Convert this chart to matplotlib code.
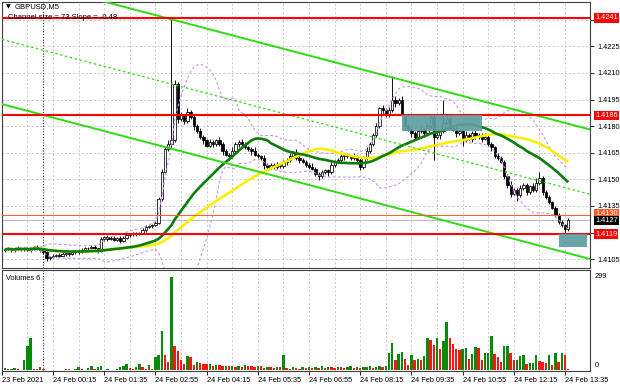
import numpy as np
import pandas as pd
import matplotlib
matplotlib.use("Agg")
import matplotlib.pyplot as plt
from matplotlib.patches import Rectangle

plt.rcParams['font.family'] = ['Liberation Sans', 'DejaVu Sans']

# ---------------- data (prices in pips above BASE) ----------------
BASE = 1.4100
first_open_pips = 10.0
close_pips = [
    10.5, 11, 10, 10.5, 11.5, 10.5, 11, 10, 11, 12,
    11, 10, 9, 5.5, 6, 7, 7.5, 7, 8, 8.5,
    8, 9, 9.5, 9, 10, 11, 11.5, 12, 11, 10,
    16.5, 17.5, 16.5, 17, 16, 17, 15.5, 17, 18.5, 19,
    19.5, 19, 20, 21.5, 23, 23.5, 24.5, 25.5, 39, 54,
    67, 70, 72, 104, 84, 86, 83, 88, 85, 80,
    77, 74, 72, 69, 71, 70, 72, 70, 66, 64,
    63, 66, 70, 71, 70, 68, 67, 66, 64, 63,
    62, 58, 57, 58, 57, 58, 57.5, 60, 61, 63,
    65, 62, 61, 60, 58, 57, 56, 53, 52, 54,
    55, 54, 58, 60, 61, 63, 64, 63, 62, 63,
    61, 57, 62, 66, 70, 75, 80, 90, 89, 86,
    89, 95, 93, 95, 86, 80, 78, 76, 74, 77,
    78, 76, 80, 85, 74, 75, 77, 82, 84, 80,
    78, 76, 77, 72, 75, 73, 76, 74, 75, 73,
    74, 70, 68, 63, 62, 60, 52, 47, 42, 44,
    41, 45, 47, 43, 46, 44, 48, 51, 43, 40,
    37, 34, 30, 26, 24, 22, 27,
]
upper_wick_pips = [
    1, 1, 0.5, 1, 1, 0.5, 1, 1, 1, 0.5,
    1, 0.5, 1, 0.5, 1, 1, 0.5, 1, 1, 0.5,
    1, 1, 0.5, 1, 1, 1, 0.5, 1, 1, 0.5,
    1, 0.5, 1, 1, 1, 0.5, 1, 1, 1, 0.5,
    1, 1, 0.5, 1, 1, 1, 0.5, 1, 1, 2,
    1, 2, 69, 2, 1, 2, 1, 2, 1, 1,
    1, 2, 1, 1, 2, 1, 1, 2, 1, 1,
    1, 2, 1, 1, 2, 1, 1, 1, 2, 1,
    1, 2, 1, 1, 1, 2, 1, 1, 1, 2,
    1, 2, 1, 1, 1, 1, 2, 1, 1, 1,
    1, 1, 2, 1, 1, 2, 1, 1, 1, 2,
    1, 1, 1, 2, 1, 1, 2, 1, 2, 1,
    2, 13, 2, 1, 2, 1, 1, 2, 1, 1,
    2, 1, 2, 2, 1, 2, 1, 13, 2, 1,
    1, 2, 1, 1, 2, 1, 1, 2, 1, 1,
    2, 1, 1, 1, 2, 1, 1, 1, 2, 1,
    1, 2, 1, 1, 1, 2, 3, 3, 1, 1,
    1, 1, 1, 1, 1, 1, 1,
]
lower_wick_pips = [
    1, 0.5, 1, 1, 0.5, 1, 1, 0.5, 1, 1,
    0.5, 1, 1, 1.5, 1, 0.5, 1, 1, 0.5, 1,
    1, 0.5, 1, 1, 0.5, 1, 1, 1, 0.5, 1.5,
    1, 1, 1, 0.5, 1, 1, 1.5, 1, 0.5, 1,
    1, 1, 0.5, 1, 1, 0.5, 1, 1, 0.5, 1,
    1, 1, 3, 1, 2, 1, 2, 1, 1, 2,
    1, 1, 2, 1, 1, 2, 1, 1, 2, 1,
    2, 1, 1, 2, 1, 1, 1, 2, 1, 1,
    1, 2, 2, 1, 1, 1, 1, 1, 2, 1,
    1, 1, 2, 1, 1, 1, 1, 1, 2.5, 1,
    1, 2, 1, 1, 1, 1, 2, 1, 1, 1,
    1, 2, 1, 1, 1, 1, 1, 1, 2, 1,
    1, 1, 2, 1, 1, 2, 1, 2, 2, 1,
    1, 2, 1, 1, 13, 1, 2, 1, 1, 2,
    1, 2, 1, 3, 1, 1, 2, 1, 1, 2,
    1, 1, 2, 1, 1, 1, 2, 2, 2, 1,
    3, 1, 1, 2, 1, 1, 1, 1, 2, 1,
    1, 1, 1, 1, 1, 3, 1,
]
volumes = [
    8, 4, 4, 8, 4, 3, 33, 77, 105, 6,
    5, 10, 4, 3, 2, 3, 2, 3, 2, 6,
    4, 3, 5, 10, 4, 3, 8, 15, 5, 10,
    15, 3, 4, 3, 3, 5, 12, 14, 22, 8,
    5, 10, 20, 10, 6, 18, 5, 42, 51, 127,
    50, 26, 299, 77, 61, 33, 21, 45, 44, 19,
    27, 25, 22, 20, 21, 13, 18, 16, 14, 15,
    13, 14, 12, 15, 11, 16, 14, 13, 12, 15,
    14, 9, 12, 10, 8, 12, 11, 51, 8, 6,
    10, 9, 5, 11, 9, 12, 8, 10, 9, 13,
    8, 11, 10, 9, 12, 10, 8, 11, 13, 9,
    12, 7, 10, 11, 14, 8, 12, 15, 10, 14,
    57, 88, 35, 54, 59, 38, 19, 51, 33, 36,
    35, 46, 105, 99, 80, 105, 69, 93, 156, 103,
    85, 69, 64, 69, 73, 38, 54, 75, 73, 35,
    56, 57, 110, 54, 42, 27, 77, 78, 57, 32,
    35, 45, 48, 22, 25, 25, 48, 31, 27, 25,
    51, 19, 57, 27, 57, 51, 5,
]
start_time = '2021-02-23 23:00'
tick_clock = ['00:15', '01:35', '02:55', '04:15', '05:35', '06:55',
              '08:15', '09:35', '10:55', '12:15', '13:35']
red_levels = [1.4241, 1.4186, 1.4119]
orange_level = 1.4130
bid_price = 1.4127
channel_lower_ends = [1.41924, 1.41051]
channel_size = 0.0073
zone1 = (1.4177, 1.4186)
zone1_times = ('2021-02-24 09:20', '2021-02-24 11:25')
zone2 = (1.4112, 1.4119)
zone2_times = ('2021-02-24 13:25', '2021-02-24 14:10')
price_ticks = [1.4105, 1.4120, 1.4135, 1.4150, 1.4165, 1.4180, 1.4195, 1.4210, 1.4225, 1.4240]
hidden_tick_labels = [1.4120, 1.4240]   # covered by the level boxes in the reference

# ---------------- derived ----------------
n = len(close_pips)
idx = np.arange(n)
times = pd.date_range(start_time, periods=n, freq='5min')
close = BASE + np.array(close_pips) * 1e-4
opn = np.r_[BASE + first_open_pips * 1e-4, close[:-1]]
hi = np.maximum(opn, close) + np.array(upper_wick_pips) * 1e-4
lo = np.minimum(opn, close) - np.array(lower_wick_pips) * 1e-4
s = pd.Series(close)
ma30 = s.rolling(30, min_periods=1).mean()
ma50 = s.rolling(50, min_periods=1).mean()
bb_mid = s.rolling(20, min_periods=1).mean()
bb_std = s.rolling(20, min_periods=1).std(ddof=0)
bb_up = bb_mid + 2 * bb_std
bb_dn = bb_mid - 2 * bb_std

def t2i(t):
    return (pd.Timestamp(t) - times[0]) / pd.Timedelta('5min')

# ---------------- figure ----------------
W, H = 620, 388
fig = plt.figure(figsize=(W / 100, H / 100), dpi=100, facecolor='white')
ax = fig.add_axes([2 / W, 1 - 268 / H, 588 / W, 266 / H])
axv = fig.add_axes([2 / W, 1 - 371 / H, 588 / W, 101 / H], sharex=ax)

XL = (-0.94, 182.8)
ax.set_xlim(*XL)
ax.set_ylim(1.4100, 1.4250)
axv.set_ylim(-1.6, 321)

grid_kw = dict(color='#c4c4c4', lw=0.6, ls=(0, (2.5, 2.5)), zorder=0.5)
for i in idx[(idx - 15) % 8 == 0]:
    ax.axvline(i, **grid_kw)
    axv.axvline(i, **grid_kw)
for p in price_ticks:
    ax.axhline(p, **grid_kw)
sep = t2i('2021-02-24 00:00')
for a in (ax, axv):
    a.axvline(sep, color='#333333', lw=0.8, ls=(0, (1, 1.5)), zorder=0.6)

# candles
ax.vlines(idx, lo, hi, color='black', lw=0.65, zorder=3)
up = close >= opn
ax.bar(idx[up], (close - opn)[up], bottom=opn[up], width=0.7, color='white',
       edgecolor='black', lw=0.55, zorder=3.1)
ax.bar(idx[~up], (opn - close)[~up], bottom=close[~up], width=0.7, color='black',
       edgecolor='black', lw=0.55, zorder=3.1)

# indicators
bb_kw = dict(color='#c796e8', lw=0.8, ls=(0, (2.5, 2)), zorder=3.5)
ax.plot(idx, bb_up, **bb_kw)
ax.plot(idx, bb_dn, **bb_kw)
ax.plot(idx, ma50, color='#ffee00', lw=1.9, zorder=4, solid_capstyle='butt')
ax.plot(idx, ma30, color='#0b7d0b', lw=1.9, zorder=4.1, solid_capstyle='butt')

# channel
chx = list(XL)
lower = np.array(channel_lower_ends)
ax.plot(chx, lower, color='#2fdc14', lw=1.4, zorder=5)
ax.plot(chx, lower + channel_size, color='#2fdc14', lw=1.4, zorder=5)
ax.plot(chx, lower + channel_size / 2, color='#2fdc14', lw=0.9,
        ls=(0, (2, 2)), zorder=5)

# levels
for lv in red_levels:
    ax.axhline(lv, color='#ff0000', lw=1.5, zorder=5.5)
ax.axhline(orange_level, color='#ff5a28', lw=0.7, zorder=5.4)
ax.axhline(bid_price, color='#b0b0b0', lw=0.6, zorder=2)

# zones
for (p0, p1), (t0, t1) in ((zone1, zone1_times), (zone2, zone2_times)):
    x0, x1 = t2i(t0), min(t2i(t1), XL[1] - 0.6)
    ax.add_patch(Rectangle((x0, p0), x1 - x0, p1 - p0, facecolor='#5f9ea0',
                           edgecolor='none', alpha=0.92, zorder=6))

# volumes
vol = np.array(volumes)
vcol = ['#0a8a0a' if (k == 0 or vol[k] >= vol[k - 1]) else '#ff1414' for k in range(n)]
axv.bar(idx, vol, width=0.72, color=vcol, zorder=3)

# axes styling
for a in (ax, axv):
    for sp in a.spines.values():
        sp.set_color('#404040')
        sp.set_linewidth(0.8)
ax.yaxis.tick_right()
ax.set_yticks(price_ticks)
ax.set_yticklabels(['' if p in hidden_tick_labels else f'{p:.4f}' for p in price_ticks])
ax.tick_params(axis='y', direction='out', length=3, width=0.6, pad=2,
               labelsize=5.3, colors='black')
ax.tick_params(axis='x', bottom=False, labelbottom=False)

tick_pos = [t2i('2021-02-24 ' + c) for c in tick_clock]
axv.set_xticks([XL[0] + 0.05] + tick_pos)
axv.set_xticklabels(['23 Feb 2021'] + ['24 Feb ' + c for c in tick_clock])
for lbl in axv.get_xticklabels():
    lbl.set_horizontalalignment('left')
axv.tick_params(axis='x', direction='out', length=3, width=0.6, pad=1.5,
                labelsize=5.3)
axv.set_yticks([])

# right-axis price boxes
yt = ax.get_yaxis_transform()
box = dict(boxstyle='square,pad=0.18', lw=0)
for lv in red_levels:
    ax.text(1.0085, lv, f'{lv:.4f}', transform=yt, ha='left', va='center',
            fontsize=5.3, color='white', clip_on=False, zorder=10,
            bbox=dict(box, facecolor='#ff0000'))
ax.text(1.0085, orange_level + 0.00005, f'{orange_level:.4f}', transform=yt,
        ha='left', va='center', fontsize=5.3, color='white', clip_on=False,
        zorder=10, bbox=dict(box, facecolor='#ff5a28'))
ax.text(1.0085, bid_price - 0.00002, f'{bid_price:.4f}', transform=yt, ha='left',
        va='center', fontsize=5.3, color='white', clip_on=False, zorder=11,
        bbox=dict(box, facecolor='black'))

# titles
ax.text(0.006, 0.982, '\u25bc', transform=ax.transAxes, fontsize=4.5,
        family='DejaVu Sans', ha='left', va='center')
ax.text(0.021, 0.982, 'GBPUSD,M5', transform=ax.transAxes, fontsize=5.5,
        ha='left', va='center', zorder=12)
ax.text(0.010, 1.4241, 'Channel size = 73 Slope = -0.48', transform=yt,
        fontsize=5.5, ha='left', va='center', zorder=12)
axv.text(0.007, 0.92, 'Volumes 6', transform=axv.transAxes, fontsize=5.3,
         ha='left', va='center')
vt = axv.get_yaxis_transform()
axv.text(1.008, max(volumes), str(max(volumes)), transform=vt, fontsize=5.3,
         ha='left', va='center', clip_on=False)
axv.text(1.008, 15, '0', transform=vt, fontsize=5.3, ha='left', va='center',
         clip_on=False)

fig.savefig('out.png', dpi=100, facecolor='white')
